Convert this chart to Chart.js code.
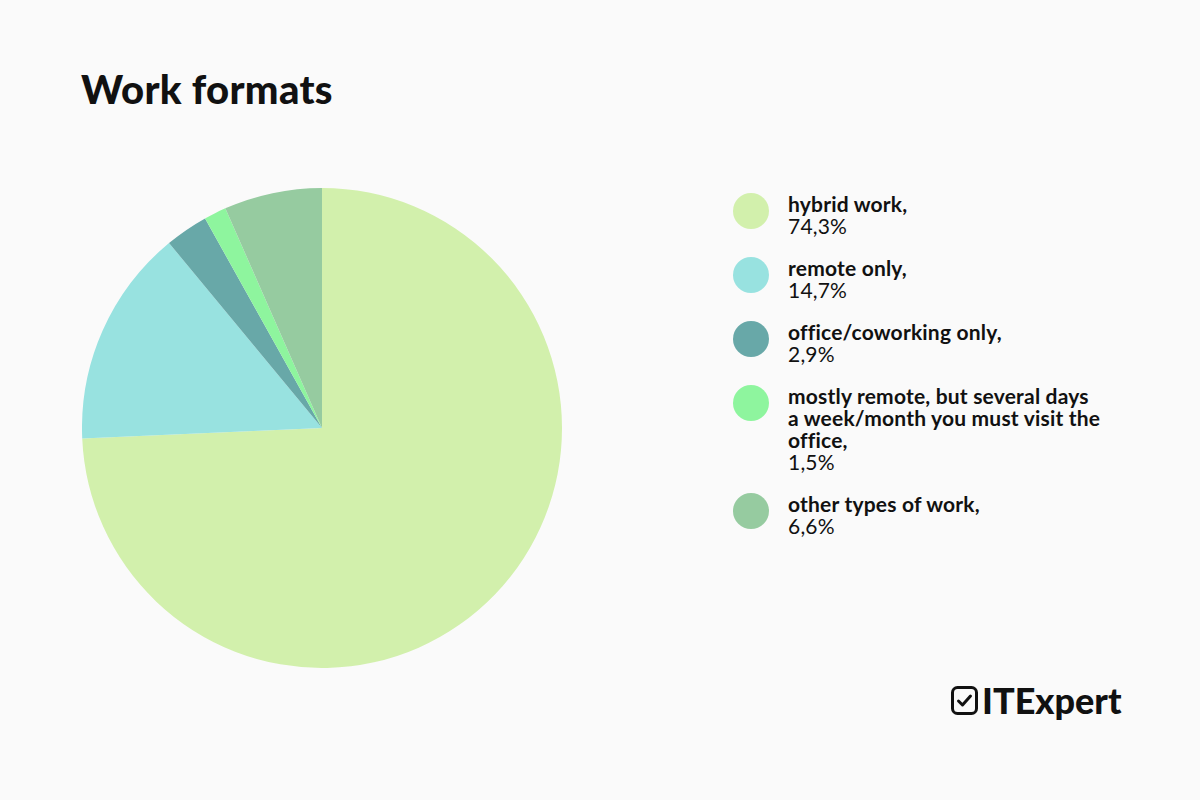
<!DOCTYPE html>
<html>
<head>
<meta charset="utf-8">
<script src="https://cdn.jsdelivr.net/npm/chart.js@4"></script>
<style>
  html, body { margin:0; padding:0; background:#fafafa; }
  body { width:1200px; height:800px; position:relative; overflow:hidden; font-family: Lato, "Open Sans", sans-serif; color:#111; }
  #title { position:absolute; left:81px; top:65px; font-size:40px; font-weight:900; letter-spacing:0.3px; margin:0; line-height:48px; }
  #pieBox { position:absolute; left:82px; top:188px; width:480px; height:480px; }
  #legend { position:absolute; left:733px; top:193px; width:420px; }
  .item { display:flex; align-items:flex-start; margin-bottom:20px; }
  .dot { width:36px; height:36px; border-radius:50%; flex:none; margin-top:0px; margin-right:19px; }
  .txt { width:360px; font-size:21px; line-height:22px; letter-spacing:0.2px; }
  .txt b { font-weight:700; white-space:pre-line; }
  #logo { position:absolute; left:951px; top:680px; display:flex; align-items:center; }
  #logo span { font-size:36px; font-weight:900; line-height:40px; margin-left:4px; }
</style>
</head>
<body>
<h1 id="title">Work formats</h1>
<div id="pieBox"><canvas id="c"></canvas></div>
<div id="legend"></div>
<div id="logo">
  <svg width="27" height="29" viewBox="0 0 27 29">
    <rect x="1.5" y="1.5" width="24" height="26" rx="5" ry="5" fill="none" stroke="#111" stroke-width="3"/>
    <path d="M7.5 15 L11.5 19 L19.5 10" fill="none" stroke="#111" stroke-width="3" stroke-linecap="round" stroke-linejoin="round"/>
  </svg>
  <span>ITExpert</span>
</div>
<script>
const categories = [
  "hybrid work,",
  "remote only,",
  "office/coworking only,",
  "mostly remote, but several days\na week/month you must visit the\noffice,",
  "other types of work,"
];
const values = [74.3, 14.7, 2.9, 1.5, 6.6];
const valueLabels = ["74,3%", "14,7%", "2,9%", "1,5%", "6,6%"];
const colors = ["#d2f0ac", "#98e2e0", "#68a8a8", "#8ef59e", "#96cba0"];

const legend = document.getElementById('legend');
categories.forEach((c, i) => {
  const it = document.createElement('div');
  it.className = 'item';
  const d = document.createElement('div');
  d.className = 'dot';
  d.style.background = colors[i];
  const t = document.createElement('div');
  t.className = 'txt';
  const b = document.createElement('b');
  b.textContent = c;
  t.appendChild(b);
  t.appendChild(document.createElement('br'));
  t.appendChild(document.createTextNode(valueLabels[i]));
  it.appendChild(d);
  it.appendChild(t);
  legend.appendChild(it);
});

new Chart(document.getElementById('c'), {
  type: 'pie',
  data: {
    labels: categories.map(s => s.replace(/\n/g, ' ')),
    datasets: [{ data: values, backgroundColor: colors, borderWidth: 0, hoverOffset: 0 }]
  },
  options: {
    responsive: true,
    maintainAspectRatio: false,
    animation: false,
    layout: { padding: 0 },
    plugins: { legend: { display: false }, tooltip: { enabled: false }, title: { display: false } }
  }
});
</script>
</body>
</html>
